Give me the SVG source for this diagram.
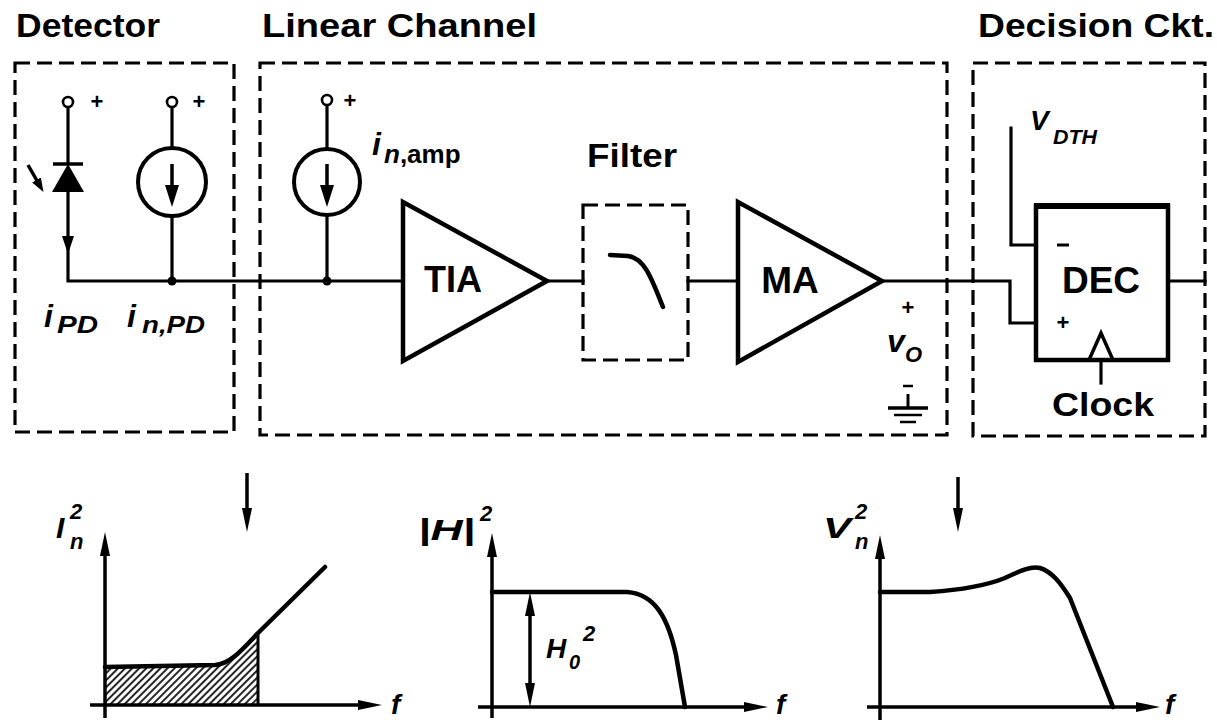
<svg xmlns="http://www.w3.org/2000/svg" width="1217" height="723" viewBox="0 0 1217 723">
<defs>
<style>
.w{fill:none;stroke:#000;stroke-width:3.2;stroke-linecap:square;stroke-linejoin:miter}
.box{fill:none;stroke:#000;stroke-width:3.2;stroke-dasharray:15 7}
.t{font-family:"Liberation Sans",Arial,sans-serif;font-weight:bold;fill:#000}
.i{font-family:"Liberation Sans",Arial,sans-serif;font-weight:bold;font-style:italic;fill:#000}
.ax{fill:none;stroke:#000;stroke-width:3.5}
.cv{fill:none;stroke:#000;stroke-width:4.5;stroke-linecap:round;stroke-linejoin:round}
.term{fill:#fff;stroke:#000;stroke-width:2.6}
.src{fill:none;stroke:#000;stroke-width:4}
</style>
<marker id="ah" viewBox="0 0 24 10" refX="12" refY="5" markerWidth="24" markerHeight="10" markerUnits="userSpaceOnUse" orient="auto-start-reverse"><path d="M0,0 L24,5 L0,10 Z"/></marker>
<marker id="ahc" viewBox="0 0 22 14" refX="11" refY="7" markerWidth="22" markerHeight="14" markerUnits="userSpaceOnUse" orient="auto"><path d="M0,0 L22,7 L0,14 Z"/></marker>
<marker id="ahs" viewBox="0 0 14 10" refX="7" refY="5" markerWidth="14" markerHeight="10" markerUnits="userSpaceOnUse" orient="auto"><path d="M0,0 L14,5 L0,10 Z"/></marker>
<pattern id="hatch" width="5" height="5" patternUnits="userSpaceOnUse" patternTransform="rotate(45)"><line x1="1" y1="0" x2="1" y2="5" stroke="#000" stroke-width="1.7"/></pattern>
</defs>
<rect width="1217" height="723" fill="#fff"/>

<!-- titles -->
<g id="titles">
<text class="t" x="16" y="37" font-size="33" textLength="144" lengthAdjust="spacingAndGlyphs">Detector</text>
<text class="t" x="262" y="37" font-size="33" textLength="275" lengthAdjust="spacingAndGlyphs">Linear Channel</text>
<text class="t" x="978" y="37" font-size="33" textLength="236" lengthAdjust="spacingAndGlyphs">Decision Ckt.</text>
</g>

<!-- connectors -->
<g id="connectors">
<polyline class="w" points="68,108 68,163"/>
<polyline class="w" points="68,192 68,281 403,281"/>
<polyline class="w" points="172,108 172,148"/>
<polyline class="w" points="172,216 172,281"/>
<polyline class="w" points="327,106 327,149"/>
<polyline class="w" points="327,215 327,281"/>
<polyline class="w" points="547,281 583,281"/>
<polyline class="w" points="688,281 738,281"/>
<polyline class="w" points="882,281 1010,281 1010,323 1036,323"/>
<polyline class="w" points="1011,128 1011,245 1036,245"/>
<polyline class="w" points="1168,281 1205,281"/>
<polyline class="w" points="1101,360 1101,383"/>
</g>

<!-- Detector -->
<g id="detector">
<rect class="box" x="15" y="63" width="219" height="369"/>
</g>
<g id="photodiode">
<circle class="term" cx="68" cy="102" r="5"/>
<text class="t" x="97" y="109" font-size="22" text-anchor="middle">+</text>
<line x1="53" y1="164" x2="83" y2="164" stroke="#000" stroke-width="3.5"/>
<polygon points="68,164 52,192 84,192" fill="#000"/>
<line x1="28" y1="165" x2="40" y2="186" stroke="#000" stroke-width="3.5" marker-end="url(#ahs)"/>
<polygon points="68,254 62,236 74,236" fill="#000"/>
<text class="i" x="44" y="327" font-size="32">i</text>
<text class="i" x="57" y="333" font-size="24" textLength="41" lengthAdjust="spacingAndGlyphs">PD</text>
</g>
<g id="src-pd">
<circle class="term" cx="172" cy="102" r="5"/>
<text class="t" x="199" y="109" font-size="22" text-anchor="middle">+</text>
<circle class="src" cx="172" cy="182" r="34"/>
<line x1="172" y1="164" x2="172" y2="196" stroke="#000" stroke-width="3.5" marker-end="url(#ahc)"/>
<circle cx="172" cy="281" r="4.5" fill="#000"/>
<text class="i" x="127" y="327" font-size="32">i</text>
<text class="i" x="142" y="333" font-size="24" textLength="63" lengthAdjust="spacingAndGlyphs">n,PD</text>
</g>

<!-- Linear channel -->
<g id="linear-channel">
<rect class="box" x="260" y="63" width="687" height="372"/>
</g>
<g id="src-amp">
<circle class="term" cx="327" cy="100" r="5"/>
<text class="t" x="350" y="108" font-size="22" text-anchor="middle">+</text>
<circle class="src" cx="327" cy="182" r="33"/>
<line x1="327" y1="164" x2="327" y2="196" stroke="#000" stroke-width="3.5" marker-end="url(#ahc)"/>
<circle cx="327" cy="281" r="4.5" fill="#000"/>
<text class="i" x="372" y="155" font-size="32">i</text>
<text x="384" y="163" font-size="26"><tspan class="i">n</tspan><tspan class="t">,amp</tspan></text>
</g>
<g id="tia">
<polygon points="403,202 403,361 547,281" fill="none" stroke="#000" stroke-width="4.5" stroke-linejoin="miter"/>
<text class="t" x="453" y="292" font-size="36" text-anchor="middle">TIA</text>
</g>
<g id="filter">
<text class="t" x="587" y="167" font-size="33" textLength="90" lengthAdjust="spacingAndGlyphs">Filter</text>
<rect class="box" x="583" y="205" width="105" height="155" stroke-width="4"/>
<path class="cv" d="M610,255 L628,256 C645,258 652,280 663,307" stroke-width="4"/>
</g>
<g id="ma">
<polygon points="738,202 738,362 882,281" fill="none" stroke="#000" stroke-width="4.5" stroke-linejoin="miter"/>
<text class="t" x="790" y="293" font-size="37" text-anchor="middle">MA</text>
</g>
<g id="vo">
<text class="t" x="908" y="315" font-size="22" text-anchor="middle">+</text>
<text class="i" x="887" y="352" font-size="32">v</text>
<text class="i" x="905" y="362" font-size="22">O</text>
<line x1="903" y1="386" x2="913" y2="386" stroke="#000" stroke-width="2.5"/>
<line x1="908" y1="394" x2="908" y2="408" stroke="#000" stroke-width="3"/>
<line x1="888" y1="408" x2="928" y2="408" stroke="#000" stroke-width="3.5"/>
<line x1="894" y1="415" x2="922" y2="415" stroke="#000" stroke-width="2.5"/>
<line x1="900" y1="422" x2="916" y2="422" stroke="#000" stroke-width="2.5"/>
</g>

<!-- Decision -->
<g id="decision">
<rect class="box" x="973" y="63" width="232" height="373"/>
</g>
<g id="dec">
<rect x="1036" y="206" width="132" height="154" fill="none" stroke="#000" stroke-width="4.5"/>
<line x1="1034" y1="206" x2="1170" y2="206" stroke="#000" stroke-width="6"/>
<text class="t" x="1101" y="293" font-size="37" text-anchor="middle">DEC</text>
<line x1="1057" y1="245" x2="1069" y2="245" stroke="#000" stroke-width="3"/>
<text class="t" x="1063" y="330" font-size="22" text-anchor="middle">+</text>
<polygon points="1089,360 1101,333 1113,360" fill="none" stroke="#000" stroke-width="3.5" stroke-linejoin="miter"/>
<text class="i" x="1030" y="130" font-size="28">V</text>
<text class="i" x="1053" y="144" font-size="20" textLength="44" lengthAdjust="spacingAndGlyphs">DTH</text>
<text class="t" x="1103" y="416" font-size="34" text-anchor="middle" textLength="102" lengthAdjust="spacingAndGlyphs">Clock</text>
</g>

<!-- Graph 1 -->
<g id="graph-in">
<path d="M105,667 L215,665 C230,664 242,650 258,633 L258,705 L105,705 Z" fill="url(#hatch)"/>
<line class="ax" x1="105" y1="718" x2="105" y2="544" marker-end="url(#ah)"/>
<line class="ax" x1="90" y1="705" x2="370" y2="705" marker-end="url(#ah)"/>
<line x1="258" y1="633" x2="258" y2="705" stroke="#000" stroke-width="3"/>
<path class="cv" d="M105,667 L215,665 C230,664 242,650 258,633 L325,567"/>
<line class="ax" x1="247" y1="473" x2="247" y2="520" stroke-width="3" marker-end="url(#ah)"/>
<text class="i" x="56" y="538" font-size="30">I</text>
<text class="i" x="70" y="519" font-size="22">2</text>
<text class="i" x="70" y="549" font-size="22">n</text>
<text class="i" x="391" y="714" font-size="28">f</text>
</g>

<!-- Graph 2 -->
<g id="graph-h">
<line class="ax" x1="492" y1="718" x2="492" y2="545" marker-end="url(#ah)"/>
<line class="ax" x1="478" y1="707" x2="756" y2="707" marker-end="url(#ah)"/>
<path class="cv" d="M492,592 L627,592 C655,594 668,618 676,655 L685,707"/>
<line class="ax" x1="530" y1="604" x2="530" y2="695" stroke-width="3" marker-start="url(#ah)" marker-end="url(#ah)"/>
<text class="i" x="418" y="540" font-size="30" textLength="57" lengthAdjust="spacingAndGlyphs">|H|</text>
<text class="i" x="480" y="521" font-size="22">2</text>
<text class="i" x="546" y="658" font-size="28">H</text>
<text class="i" x="569" y="669" font-size="20">0</text>
<text class="i" x="583" y="641" font-size="22">2</text>
<text class="i" x="776" y="714" font-size="28">f</text>
</g>

<!-- Graph 3 -->
<g id="graph-vn">
<line class="ax" x1="880" y1="720" x2="880" y2="547" marker-end="url(#ah)"/>
<line class="ax" x1="867" y1="707" x2="1148" y2="707" marker-end="url(#ah)"/>
<path class="cv" d="M880,592 L930,592 C960,590 985,586 1005,578 C1020,571 1030,566 1040,568 C1052,572 1060,582 1070,598 L1113,707"/>
<line class="ax" x1="958" y1="477" x2="958" y2="520" stroke-width="3" marker-end="url(#ah)"/>
<text class="i" x="823" y="538" font-size="30" textLength="28" lengthAdjust="spacingAndGlyphs">V</text>
<text class="i" x="855" y="519" font-size="22">2</text>
<text class="i" x="855" y="549" font-size="22">n</text>
<text class="i" x="1165" y="714" font-size="28">f</text>
</g>
</svg>
